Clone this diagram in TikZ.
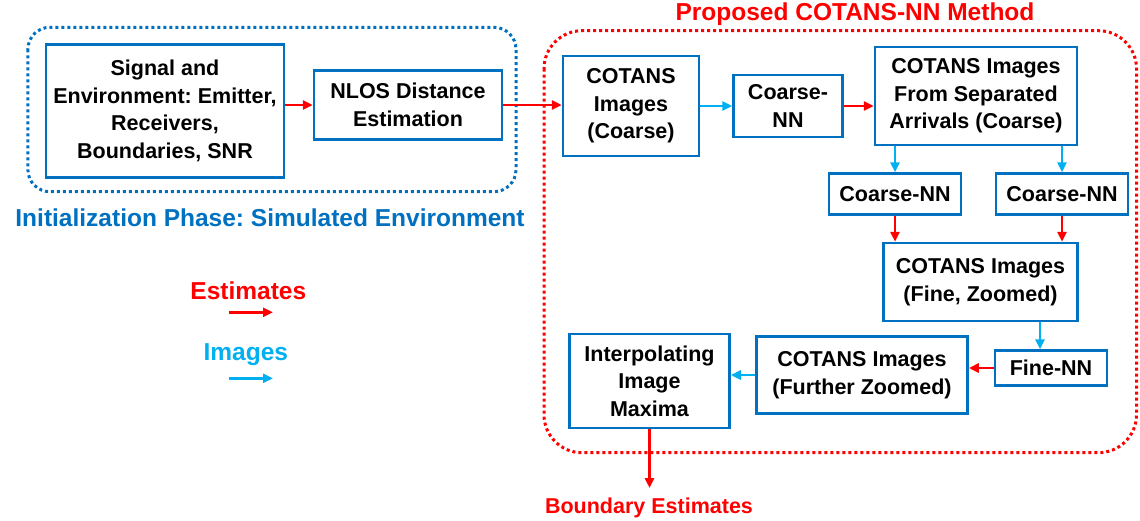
\documentclass[tikz,border=0pt]{standalone}
\usepackage{fontspec}
\setmainfont{Liberation Sans}
\usetikzlibrary{arrows.meta}
\definecolor{boxblue}{RGB}{0,112,192}
\definecolor{lightblue}{RGB}{0,176,240}
\definecolor{myred}{RGB}{255,0,0}
\frenchspacing
\begin{document}
\begin{tikzpicture}[x=1pt,y=-1pt,
  box/.style={draw=boxblue, line width=2.5pt, align=center, inner sep=0pt,
    font=\fontsize{21.5}{27.5}\selectfont\bfseries},
  est/.style={draw=myred, line width=2.5pt, -{Triangle[length=10pt,width=9pt]}},
  img/.style={draw=lightblue, line width=2.5pt, -{Triangle[length=10pt,width=9pt]}},
  group/.style={line width=3pt, dash pattern=on 3pt off 3pt},
  lbl/.style={inner sep=0pt, anchor=base, font=\fontsize{24.5}{29}\selectfont\bfseries},
  smalllbl/.style={inner sep=0pt, anchor=base, font=\fontsize{21.5}{27.5}\selectfont\bfseries}
]
\useasboundingbox (0,0) rectangle (1140,520);

% group frames
\draw[group, draw=boxblue, rounded corners=22pt] (27.9,27.3) rectangle (516,191.7);
\draw[group, draw=myred, rounded corners=38pt] (544,30.7) rectangle (1136.5,452.7);

% labels
\node[lbl, text=boxblue] (initlbl) at (270,226.7) {Initialization Phase: Simulated Environment};
\node[lbl, text=myred] (proplbl) at (855,20) {Proposed COTANS-NN Method};
\node[lbl, text=myred] (estlbl) at (248.3,299.3) {Estimates};
\node[lbl, text=lightblue] (imglbl) at (245.8,360) {Images};
\node[smalllbl, text=myred] (bnd) at (649,513.3) {Boundary Estimates};

% boxes
\node[box, minimum width=238pt, minimum height=133pt] (sig) at (165,111)
  {Signal and\\Environment: Emitter,\\Receivers,\\Boundaries, SNR};
\node[box, minimum width=188pt, minimum height=68.6pt] (nlos) at (408,105)
  {NLOS Distance\\Estimation};
\node[box, minimum width=136pt, minimum height=100pt] (coarse) at (631,106)
  {COTANS\\Images\\(Coarse)};
\node[box, minimum width=109pt, minimum height=62pt] (cnn1) at (788,106)
  {Coarse-\\NN};
\node[box, minimum width=202pt, minimum height=98pt] (sep) at (976,96)
  {COTANS Images\\From Separated\\Arrivals (Coarse)};
\node[box, minimum width=132pt, minimum height=41pt] (cnn2) at (895,194)
  {Coarse-NN};
\node[box, minimum width=132pt, minimum height=41pt] (cnn3) at (1062,194)
  {Coarse-NN};
\node[box, minimum width=194pt, minimum height=78pt] (fine) at (980.5,282)
  {COTANS Images\\(Fine, Zoomed)};
\node[box, minimum width=112pt, minimum height=35pt] (finenn) at (1051,368)
  {Fine-NN};
\node[box, minimum width=211pt, minimum height=77pt] (further) at (862,375)
  {COTANS Images\\(Further Zoomed)};
\node[box, minimum width=160pt, minimum height=94pt] (interp) at (649.5,381)
  {Interpolating\\Image\\Maxima};

% helper coordinates
\coordinate (fa) at ([xshift=-11pt]finenn.north);
\coordinate (bend) at (649.5,488);
\coordinate (le1) at (229,312.3);
\coordinate (le2) at (273,312.3);
\coordinate (li1) at (229,378.3);
\coordinate (li2) at (273,378.3);

% connectors
\draw[est] (sig.east |- nlos.west) -- (nlos.west);
\draw[est] (nlos.east) -- (coarse.west |- nlos.east);
\draw[img] (coarse.east) -- (cnn1.west);
\draw[est] (cnn1.east) -- (cnn1.east -| sep.west);
\draw[img] (sep.south -| cnn2.north) -- (cnn2.north);
\draw[img] (sep.south -| cnn3.north) -- (cnn3.north);
\draw[est] (cnn2.south) -- (cnn2.south |- fine.north);
\draw[est] (cnn3.south) -- (cnn3.south |- fine.north);
\draw[img] (fine.south -| fa) -- (fa);
\draw[est] (finenn.west) -- (finenn.west -| further.east);
\draw[img] (further.west) -- (further.west -| interp.east);
\draw[est] (interp.south) -- (bend);

% legend arrows
\draw[est] (le1) -- (le2);
\draw[img] (li1) -- (li2);
\end{tikzpicture}
\end{document}
